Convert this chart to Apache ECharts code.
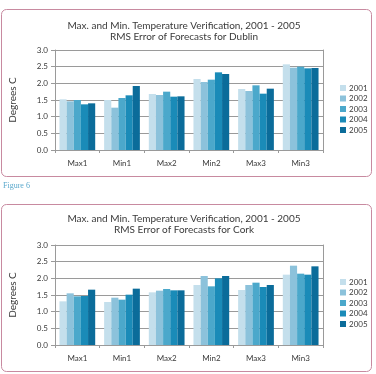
<!DOCTYPE html>
<html>
<head>
<meta charset="utf-8">
<title>RMS Error of Forecasts</title>
<script src="https://cdn.jsdelivr.net/npm/echarts@6/dist/echarts.min.js"></script>
<style>
  html, body { margin: 0; padding: 0; background: #fff; }
  #main { width: 376px; height: 374px; }
</style>
</head>
<body>
<div id="main"></div>
<script>
// data
var categories = ['Max1', 'Min1', 'Max2', 'Min2', 'Max3', 'Min3'];
var years = ['2001', '2002', '2003', '2004', '2005'];
var yTicks = [0, 0.5, 1, 1.5, 2, 2.5, 3];

// Dublin, one array per year (Max1..Min3)
var dublin2001 = [1.52, 1.50, 1.68, 2.13, 1.83, 2.57];
var dublin2002 = [1.46, 1.27, 1.65, 2.04, 1.77, 2.47];
var dublin2003 = [1.50, 1.56, 1.75, 2.11, 1.94, 2.50];
var dublin2004 = [1.37, 1.64, 1.60, 2.33, 1.69, 2.45];
var dublin2005 = [1.40, 1.92, 1.61, 2.28, 1.84, 2.46];

// Cork
var cork2001 = [1.31, 1.29, 1.58, 1.80, 1.65, 2.11];
var cork2002 = [1.55, 1.42, 1.63, 2.07, 1.80, 2.38];
var cork2003 = [1.46, 1.36, 1.68, 1.76, 1.87, 2.14];
var cork2004 = [1.47, 1.51, 1.64, 2.00, 1.74, 2.11];
var cork2005 = [1.66, 1.69, 1.64, 2.07, 1.80, 2.36];

var dublin = [dublin2001, dublin2002, dublin2003, dublin2004, dublin2005];
var cork = [cork2001, cork2002, cork2003, cork2004, cork2005];

var colors = ['#c4dfec', '#8cc2db', '#4ba8cb', '#1a8bb8', '#0b6c9a'];
var textCol = '#3a3a3a';
var lineCol = '#9a9a9a';
var border = '#c88aa0';

var myChart = echarts.init(document.getElementById('main'));

function xAxisFor(gi) {
    return {
        type: 'category', gridIndex: gi, data: categories,
        axisLine: { lineStyle: { color: lineCol } },
        axisTick: { show: true, length: 3, lineStyle: { color: lineCol } },
        axisLabel: { color: textCol, fontSize: 8, margin: 9, fontFamily: 'Lato' },
        splitLine: { show: false }
    };
}
function yAxisFor(gi) {
    return {
        type: 'value', gridIndex: gi, min: yTicks[0], max: yTicks[yTicks.length - 1], interval: 0.5,
        name: 'Degrees C', nameLocation: 'middle', nameGap: 37, nameRotate: 90,
        nameTextStyle: { color: textCol, fontSize: 10, fontFamily: 'Lato' },
        axisLine: { show: true, lineStyle: { color: lineCol } },
        axisTick: { show: true, length: 4, lineStyle: { color: lineCol } },
        axisLabel: { color: textCol, fontSize: 8, margin: 7, fontFamily: 'Lato',
            formatter: function (v) { return v.toFixed(1); } },
        splitLine: { show: true, lineStyle: { color: lineCol } }
    };
}
function rightAxisFor(gi) {
    return {
        type: 'value', gridIndex: gi, position: 'right', min: 0, max: 3,
        axisLine: { show: true, lineStyle: { color: lineCol } },
        axisTick: { show: false }, axisLabel: { show: false }, splitLine: { show: false }
    };
}
function legendFor(top) {
    return {
        orient: 'vertical', left: 335, top: top, data: years,
        itemWidth: 6, itemHeight: 6, itemGap: 2.5,
        icon: 'rect',
        textStyle: { color: textCol, fontSize: 8, fontFamily: 'Lato', padding: [0, 0, 0, -2] }
    };
}

var series = [];
years.forEach(function (y, i) {
    series.push({
        name: y, type: 'bar', xAxisIndex: 0, yAxisIndex: 0, data: dublin[i],
        barGap: '0%', barCategoryGap: '20%', itemStyle: { color: colors[i] }
    });
});
years.forEach(function (y, i) {
    series.push({
        name: y, type: 'bar', xAxisIndex: 1, yAxisIndex: 2, data: cork[i],
        barGap: '0%', barCategoryGap: '20%', itemStyle: { color: colors[i] }
    });
});

var titleStyle = { color: textCol, fontSize: 10, fontWeight: 'normal', lineHeight: 11, fontFamily: 'Lato' };

option = {
    backgroundColor: '#fff',
    animation: false,
    color: colors,
    title: [{
        text: 'Max. and Min. Temperature Verification, 2001 - 2005\nRMS Error of Forecasts for Dublin',
        left: 179, top: 15, textAlign: 'center', textStyle: titleStyle
    }, {
        text: 'Max. and Min. Temperature Verification, 2001 - 2005\nRMS Error of Forecasts for Cork',
        left: 179, top: 208, textAlign: 'center', textStyle: titleStyle
    }],
    legend: [legendFor(79), legendFor(273)],
    grid: [
        { left: 50, top: 50, width: 273, height: 100 },
        { left: 49, top: 245, width: 274, height: 100 }
    ],
    xAxis: [xAxisFor(0), xAxisFor(1)],
    yAxis: [yAxisFor(0), rightAxisFor(0), yAxisFor(1), rightAxisFor(1)],
    graphic: [
        { type: 'rect', shape: { x: 1.5, y: 9.5, width: 370, height: 167, r: 5 },
          style: { fill: null, stroke: border, lineWidth: 1 }, silent: true },
        { type: 'rect', shape: { x: 1.5, y: 204.5, width: 370, height: 167, r: 5 },
          style: { fill: null, stroke: border, lineWidth: 1 }, silent: true },
        { type: 'text', left: 3, top: 182,
          style: { text: 'Figure 6', fill: '#5aa8cc', fontSize: 8, fontFamily: 'Liberation Serif' } }
    ],
    series: series
};
myChart.setOption(option);
</script>
</body>
</html>
